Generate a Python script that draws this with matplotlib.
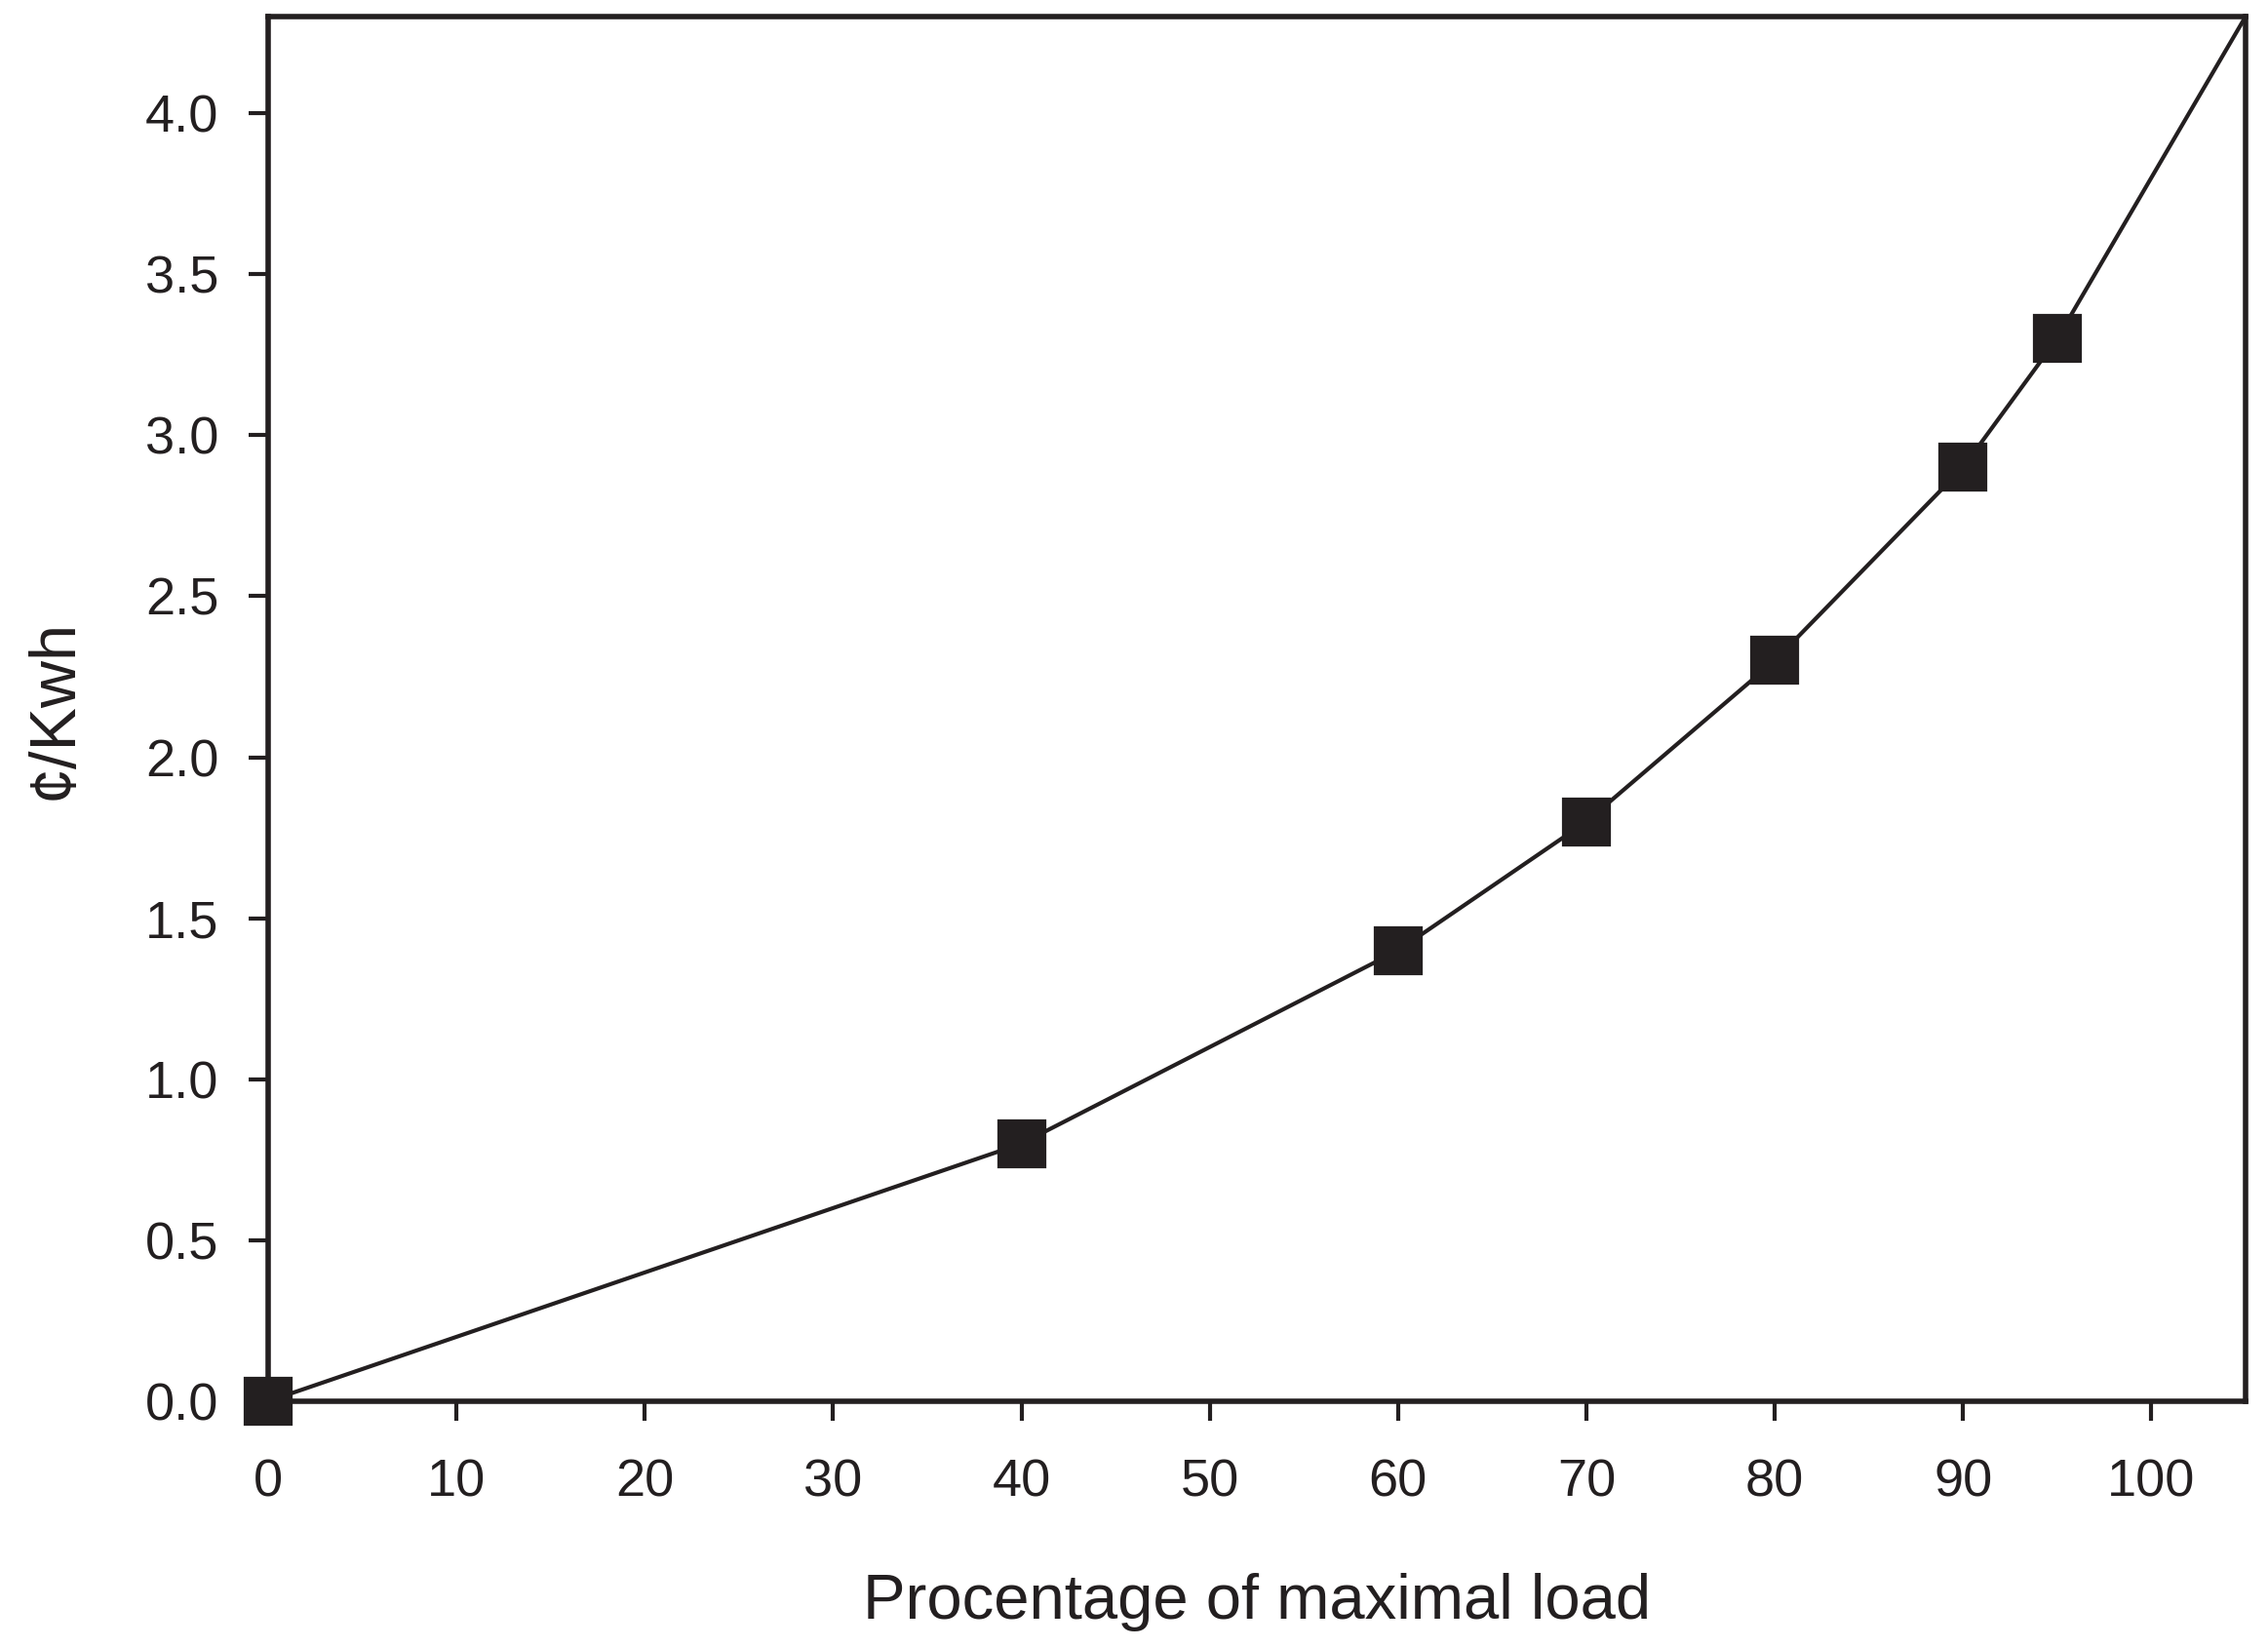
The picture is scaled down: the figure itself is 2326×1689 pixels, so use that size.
import matplotlib.pyplot as plt
import numpy as np

# data
load_pct = [0, 40, 60, 70, 80, 90, 95]
cost = [0.0, 0.8, 1.4, 1.8, 2.3, 2.9, 3.3]
# line carries on to the top right corner
line_x = load_pct + [105]
line_y = cost + [4.3]

x_ticks = list(range(0, 101, 10))
y_ticks = [0.0, 0.5, 1.0, 1.5, 2.0, 2.5, 3.0, 3.5, 4.0]

ink = '#231f20'
plt.rcParams['font.family'] = ['Liberation Sans', 'DejaVu Sans']

fig = plt.figure(figsize=(11.63, 8.445), dpi=200)
ax = fig.add_axes([0.1182, 0.1492, 0.9901 - 0.1182, 0.9899 - 0.1492])

ax.plot(line_x, line_y, color=ink, lw=1.5, clip_on=False, zorder=2)
ax.plot(load_pct, cost, ls='none', marker='s', ms=17, mfc=ink, mec=ink,
        mew=0.8, clip_on=False, zorder=3)

ax.set_xlim(0, 105)
ax.set_ylim(0, 4.3)
ax.set_xticks(x_ticks)
ax.set_yticks(y_ticks)
ax.set_yticklabels(['%.1f' % v for v in y_ticks])

for s in ax.spines.values():
    s.set_linewidth(2.0)
    s.set_color(ink)
ax.tick_params(axis='both', direction='out', length=7.2, width=1.5,
               color=ink, labelcolor=ink, labelsize=19.5)
ax.tick_params(axis='x', pad=14)
ax.tick_params(axis='y', pad=11)

ax.set_xlabel('Procentage of maximal load', fontsize=23.5, color=ink, labelpad=24)
ax.set_ylabel('¢/Kwh', fontsize=24, color=ink, labelpad=22)

fig.savefig('out.png', dpi=200)
